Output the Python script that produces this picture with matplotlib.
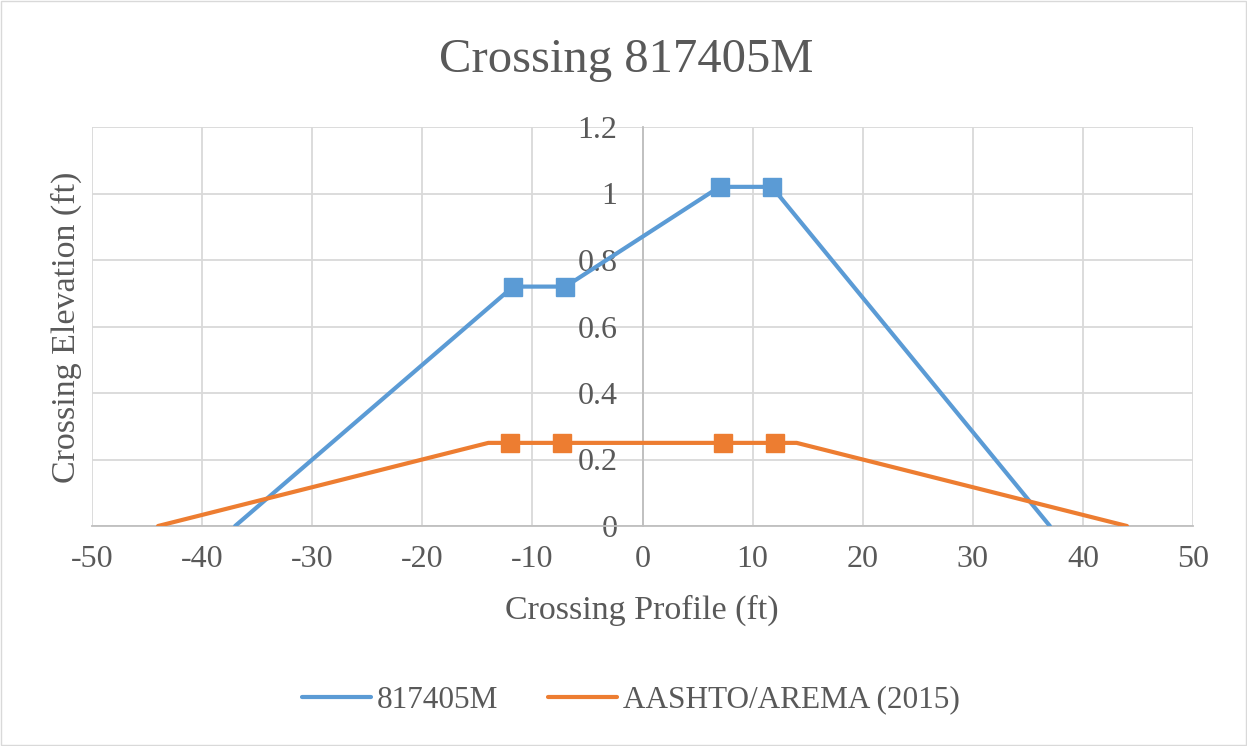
"""Crossing 817405M profile chart"""

import matplotlib
matplotlib.use("Agg")
import matplotlib.pyplot as plt
from matplotlib.lines import Line2D

plt.rcParams["font.family"] = ["Liberation Serif", "DejaVu Serif"]
plt.rcParams["axes.unicode_minus"] = False

# 817405M measured profile
crossing_x = [-37, -11.75, -7, 7, 11.75, 37]
crossing_y = [0, 0.72, 0.72, 1.02, 1.02, 0]

# AASHTO/AREMA (2015) limit profile
aashto_x = [-44, -14, -12, -7.3, 7.3, 12, 14, 44]
aashto_y = [0, 0.25, 0.25, 0.25, 0.25, 0.25, 0.25, 0]

BLUE = "#5B9BD5"
ORANGE = "#ED7D31"
TEXT = "#595959"

fig = plt.figure(figsize=(12.47, 7.46), dpi=100)
ax = fig.add_axes([92 / 1247, 1 - 526 / 746, (1193 - 92) / 1247, (526 - 127) / 746])

ax.plot(crossing_x, crossing_y, color=BLUE, linewidth=3, marker="s", markersize=13.5,
        markevery=[1, 2, 3, 4], solid_capstyle="round", zorder=3)
ax.plot(aashto_x, aashto_y, color=ORANGE, linewidth=3, marker="s", markersize=13.5,
        markevery=[2, 3, 4, 5], solid_capstyle="round", zorder=3)

ax.set_xlim(-50, 50)
ax.set_ylim(0, 1.2)
ax.set_xticks(range(-50, 51, 10))
ax.set_yticks([0, 0.2, 0.4, 0.6, 0.8, 1, 1.2])
ax.set_yticklabels(["0", "0.2", "0.4", "0.6", "0.8", "1", "1.2"])
ax.grid(color="#d9d9d9", linewidth=1.3)
ax.set_axisbelow(True)

for side in ["top", "right"]:
    ax.spines[side].set_visible(False)
ax.spines["left"].set_position(("data", 0))
ax.spines["left"].set_color("#bfbfbf")
ax.spines["left"].set_linewidth(1.3)
ax.spines["bottom"].set_color("#bfbfbf")
ax.spines["bottom"].set_linewidth(1.3)
ax.tick_params(length=0, labelsize=23, colors=TEXT)
ax.tick_params(axis="x", pad=14)
ax.tick_params(axis="y", pad=18)

fig.text(626 / 1247, 1 - 60 / 746, "Crossing 817405M", fontsize=35, color=TEXT,
         ha="center", va="center")
fig.text(642 / 1247, 1 - 610 / 746, "Crossing Profile (ft)", fontsize=24.5, color=TEXT,
         ha="center", va="center")
fig.text(66 / 1247, 1 - 327 / 746, "Crossing Elevation (ft)", rotation=90, fontsize=24.5,
         color=TEXT, ha="center", va="center")

handles = [Line2D([], [], color=BLUE, linewidth=3, solid_capstyle="round"),
           Line2D([], [], color=ORANGE, linewidth=3, solid_capstyle="round")]
fig.legend(handles, ["817405M", "AASHTO/AREMA (2015)"], loc="center",
           bbox_to_anchor=(631 / 1247, 1 - 700 / 746), ncol=2, frameon=False, fontsize=22.5,
           labelcolor=TEXT, handlelength=2.2, handletextpad=0.2, columnspacing=1.6)

fig.patches.append(plt.Rectangle((0.001, 0.001), 0.998, 0.998, transform=fig.transFigure,
                                 fill=False, edgecolor="#d9d9d9", linewidth=1))

fig.savefig("out.png", dpi=100)
